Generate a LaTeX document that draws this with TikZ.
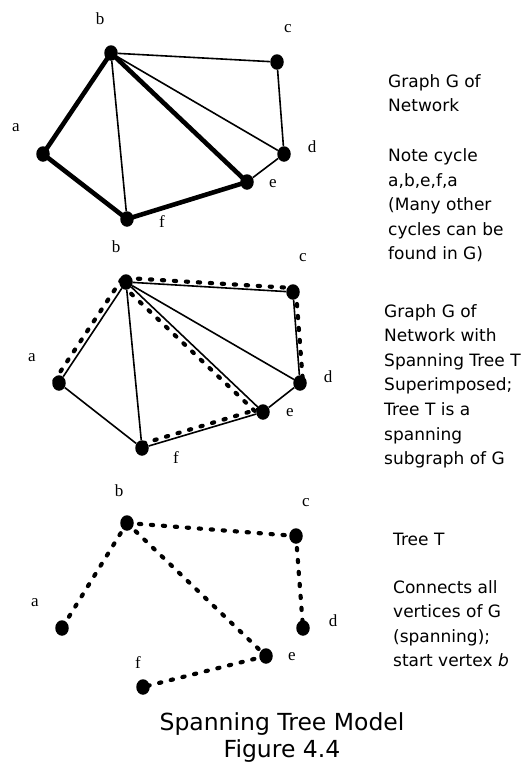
\documentclass[tikz,border=0pt]{standalone}
\usepackage{fontspec}
\setmainfont{Liberation Serif}
\newfontfamily\notefont{DejaVu Sans}
\usetikzlibrary{shapes.geometric}

\begin{document}
\begin{tikzpicture}[x=1pt,y=-1pt,
  vtx/.style={ellipse,fill=black,inner sep=0pt,minimum width=13.5pt,minimum height=15.5pt},
  lbl/.style={font=\fontsize{17}{20}\selectfont,inner sep=0pt},
  % multi-line notes are placed by the baseline of their last line
  note/.style={font=\notefont\fontsize{17}{24.6}\selectfont,align=left,inner sep=0pt,anchor=base west},
  caption/.style={font=\notefont\fontsize{23.5}{27}\selectfont,align=center,inner sep=0pt,anchor=base},
  gedge/.style={line width=1.6pt},
  cycleedge/.style={line width=4.6pt},
  treeedge/.style={line width=4.2pt,dash pattern=on 2.2pt off 9.8pt,line cap=round}
]
\useasboundingbox (0,0) rectangle (528,763);

% ---------- Graph G with the cycle a,b,e,f,a ----------
\node[vtx] (a1) at (43,154) {};
\node[vtx] (b1) at (111,53) {};
\node[vtx] (c1) at (277,62) {};
\node[vtx] (d1) at (284,154) {};
\node[vtx] (e1) at (247,182) {};
\node[vtx] (f1) at (127,219) {};
\draw[gedge] (b1) -- (c1) (c1) -- (d1) (d1) -- (e1) (b1) -- (d1) (b1) -- (f1);
\draw[cycleedge] (b1.center) -- (a1.center) (a1.center) -- (f1.center)
                 (f1.center) -- (e1.center) (e1.center) -- (b1.center);
\node[lbl] (la1) at (16,128) {a};
\node[lbl] (lb1) at (100,19) {b};
\node[lbl] (lc1) at (288,29) {c};
\node[lbl] (ld1) at (312,147) {d};
\node[lbl] (le1) at (273,184) {e};
\node[lbl] (lf1) at (162,222) {f};

\node[note] (t1) at (388,111.6) {Graph G of\\Network};
\node[note] (t2) at (388,259.9) {Note cycle\\a,b,e,f,a\\(Many other\\cycles can be\\found in G)};

% ---------- Graph G with tree T superimposed ----------
\node[vtx] (a2) at (59,383) {};
\node[vtx] (b2) at (126,282) {};
\node[vtx] (c2) at (293,292) {};
\node[vtx] (d2) at (300,383) {};
\node[vtx] (e2) at (263,412) {};
\node[vtx] (f2) at (142,448) {};
\draw[gedge] (b2) -- (c2) (c2) -- (d2) (d2) -- (e2) (b2) -- (d2) (b2) -- (e2)
             (b2) -- (a2) (a2) -- (f2) (f2) -- (e2) (b2) -- (f2);
\draw[treeedge,transform canvas={shift={(-4.5,-2.5)}}] (b2.center) -- (a2.center);
\draw[treeedge,transform canvas={shift={(0,-4)}}] (b2.center) -- (c2.center);
\draw[treeedge,transform canvas={shift={(3,0)}}] (c2.center) -- (d2.center);
\draw[treeedge,transform canvas={shift={(-3.5,3.5)}}] (b2.center) -- (e2.center);
\draw[treeedge,transform canvas={shift={(1,-4.5)}}] (f2.center) -- (e2.center);
\node[lbl] (la2) at (32,358) {a};
\node[lbl] (lb2) at (116,247) {b};
\node[lbl] (lc2) at (303,258) {c};
\node[lbl] (ld2) at (328,377) {d};
\node[lbl] (le2) at (290,413) {e};
\node[lbl] (lf2) at (176,458) {f};

\node[note] (t3) at (384,464.6) {Graph G of\\Network with\\Spanning Tree T\\Superimposed;\\Tree T is a\\spanning\\subgraph of G};

% ---------- Tree T ----------
\coordinate (a3) at (62,628);
\coordinate (b3) at (127,523);
\coordinate (c3) at (296,536);
\coordinate (d3) at (303,628);
\coordinate (e3) at (266,656);
\coordinate (f3) at (143,687);
\draw[treeedge] (b3) -- (a3) (b3) -- (c3) (c3) -- (d3) (b3) -- (e3) (e3) -- (f3);
\foreach \v in {a3,b3,c3,d3,e3,f3} \node[vtx] (n\v) at (\v) {};
\node[lbl] (la3) at (35,603) {a};
\node[lbl] (lb3) at (119,491) {b};
\node[lbl] (lc3) at (306,503) {c};
\node[lbl] (ld3) at (333,621) {d};
\node[lbl] (le3) at (292,657) {e};
\node[lbl] (lf3) at (138,663) {f};

\node[note] (t4) at (393,545) {Tree T};
\node[note] (t5) at (393,666.8) {Connects all\\vertices of G\\(spanning);\\start vertex {\itshape b}};

% ---------- caption ----------
\node[caption] (cap) at (282,757) {Spanning Tree Model\\Figure 4.4};
\end{tikzpicture}
\end{document}
